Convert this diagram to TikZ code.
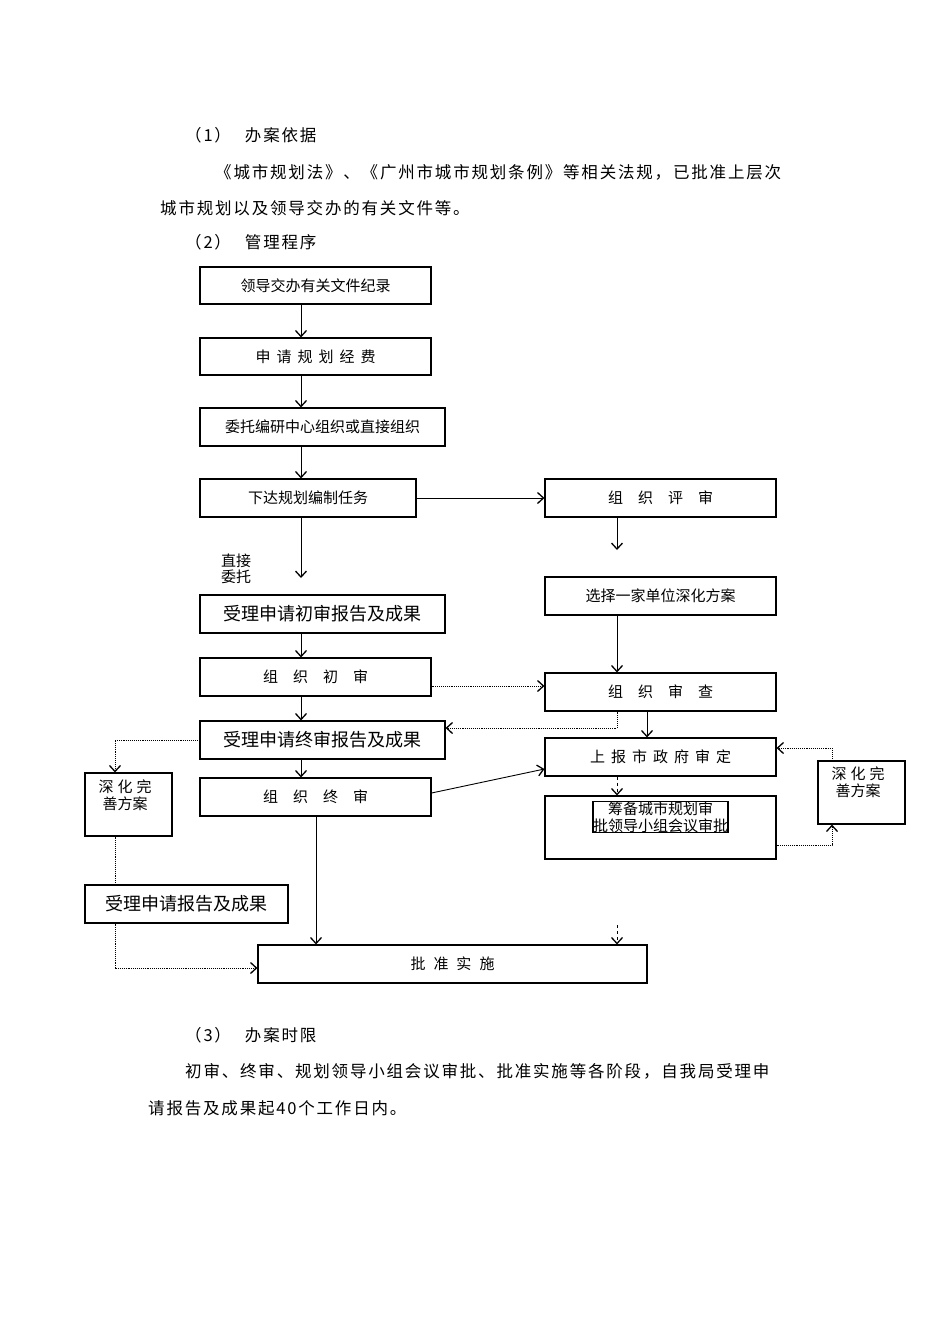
\documentclass[tikz,border=0pt]{standalone}
\usepackage{fontspec}
\setmainfont{Liberation Serif}
\newfontfamily\cjk{Noto Sans CJK SC}[Scale=1]
\newfontfamily\cjkb{Noto Sans CJK SC}[LetterSpace=11]
\usetikzlibrary{arrows.meta}
\begin{document}
\begin{tikzpicture}[x=1pt,y=-1pt,
  box/.style={draw,line width=1.1pt,inner sep=0pt,font=\cjk\fontsize{15}{17}\selectfont,align=center},
  big/.style={font=\cjk\fontsize{18}{20}\selectfont},
  arr/.style={line width=0.9pt,-{Straight Barb[length=6pt,width=11pt,line width=1.3pt]}},
  dot/.style={arr,densely dotted,line width=1pt},
  dsh/.style={arr,dashed},
  ln/.style={line width=0.9pt},
  body/.style={anchor=west,inner sep=0pt,font=\cjkb\fontsize{16.5}{18}\selectfont}]
\path[use as bounding box,fill=white] (0,0) rectangle (950,1344);
% text
\node[body] (t1) at (185,135) {（1）\hspace{14pt}办案依据};
\node[body] (t2) at (215,172) {《城市规划法》、《广州市城市规划条例》等相关法规，已批准上层次};
\node[body] (t3) at (160,208) {城市规划以及领导交办的有关文件等。};
\node[body] (t4) at (185,242) {（2）\hspace{14pt}管理程序};
\node[body] (t5) at (185,1035) {（3）\hspace{14pt}办案时限};
\node[body] (t6) at (185,1071) {初审、终审、规划领导小组会议审批、批准实施等各阶段，自我局受理申};
\node[body] (t7) at (148,1108) {请报告及成果起40个工作日内。};
% boxes
\node[box,minimum width=231pt,minimum height=37pt] (A) at (315.5,285.5) {领导交办有关文件纪录};
\node[box,minimum width=231pt,minimum height=37pt] (B) at (315.5,356.5) {申\hspace{6pt}请\hspace{6pt}规\hspace{6pt}划\hspace{6pt}经\hspace{6pt}费};
\node[box,minimum width=245pt,minimum height=38pt] (C) at (322.5,427) {委托编研中心组织或直接组织};
\node[box,minimum width=216pt,minimum height=38pt] (D) at (308,498) {下达规划编制任务};
\node[box,minimum width=231pt,minimum height=38pt] (E) at (660.5,498) {组\hspace{15pt}织\hspace{15pt}评\hspace{15pt}审};
\node[box,minimum width=231pt,minimum height=38pt] (F) at (660.5,596) {选择一家单位深化方案};
\node[box,big,minimum width=245pt,minimum height=38pt] (G) at (322.5,614) {受理申请初审报告及成果};
\node[box,minimum width=231pt,minimum height=38pt] (H) at (315.5,677) {组\hspace{15pt}织\hspace{15pt}初\hspace{15pt}审};
\node[box,minimum width=231pt,minimum height=38pt] (I) at (660.5,692) {组\hspace{15pt}织\hspace{15pt}审\hspace{15pt}查};
\node[box,big,minimum width=245pt,minimum height=38pt] (J) at (322.5,740) {受理申请终审报告及成果};
\node[box,minimum width=231pt,minimum height=38pt] (K) at (660.5,757) {上\hspace{6pt}报\hspace{6pt}市\hspace{6pt}政\hspace{6pt}府\hspace{6pt}审\hspace{6pt}定};
\node[box,minimum width=231pt,minimum height=38pt] (L) at (315.5,797) {组\hspace{15pt}织\hspace{15pt}终\hspace{15pt}审};
\node[box,minimum width=231pt,minimum height=63pt] (M) at (660.5,827.5) {};
\node[box,anchor=north,inner sep=0pt] (Mt) at (660.5,801) {筹备城市规划审\\批领导小组会议审批};
\node[box,minimum width=87pt,minimum height=63pt] (N) at (128.5,804.5) {};
\node[box,draw=none,anchor=north west] (Nt) at (98,779) {深\hspace{4pt}化\hspace{4pt}完\\善方案};
\node[box,minimum width=87pt,minimum height=63pt] (O) at (861.5,792.5) {};
\node[box,draw=none,anchor=north west] (Ot) at (831,766) {深\hspace{4pt}化\hspace{4pt}完\\善方案};
\node[box,big,minimum width=203pt,minimum height=38pt] (P) at (186.5,904) {受理申请报告及成果};
\node[box,minimum width=389pt,minimum height=38pt] (Q) at (452.5,964) {批\hspace{8pt}准\hspace{8pt}实\hspace{8pt}施};
\node[font=\cjk\fontsize{15}{16}\selectfont,align=left,inner sep=0pt,anchor=north west] (lab) at (221,554) {直接\\委托};
% free ends
\coordinate (d1) at (301,578);
\coordinate (e1) at (617,550);
\coordinate (q0) at (617,925);
% connectors
\draw[arr] (A.south -| 301,0) -- (B.north -| 301,0);
\draw[arr] (B.south -| 301,0) -- (C.north -| 301,0);
\draw[arr] (C.south -| 301,0) -- (D.north -| 301,0);
\draw[arr] (D.south -| 301,0) -- (d1);
\draw[arr] (D.east) -- (E.west);
\draw[arr] (E.south -| 617,0) -- (e1);
\draw[arr] (F.south -| 617,0) -- (I.north -| 617,0);
\draw[arr] (G.south -| 301,0) -- (H.north -| 301,0);
\draw[arr] (H.south -| 301,0) -- (J.north -| 301,0);
\draw[arr] (J.south -| 301,0) -- (L.north -| 301,0);
\draw[dot] (H.east |- 0,686) -- (I.west |- 0,686);
\draw[dot] (I.south -| 617,0) -- (617,728) -- (J.east |- 0,728);
\draw[arr] (I.south -| 647,0) -- (K.north -| 647,0);
\draw[arr] (L.east |- 0,793) -- (K.west |- 0,769);
\draw[dsh] (K.south -| 617,0) -- (M.north -| 617,0);
\draw[dot] (M.east |- 0,845) -- (832,845) -- (O.south -| 832,0);
\draw[dot] (O.north -| 832,0) -- (832,748) -- (K.east |- 0,748);
\draw[dot] (J.west) -- (115,740) -- (N.north -| 115,0);
\draw[ln,densely dotted] (N.south -| 115,0) -- (P.north -| 115,0);
\draw[dot] (P.south -| 115,0) -- (115,968) -- (Q.west |- 0,968);
\draw[arr] (L.south -| 316,0) -- (Q.north -| 316,0);
\draw[dsh] (q0) -- (Q.north -| 617,0);
\end{tikzpicture}
\end{document}
